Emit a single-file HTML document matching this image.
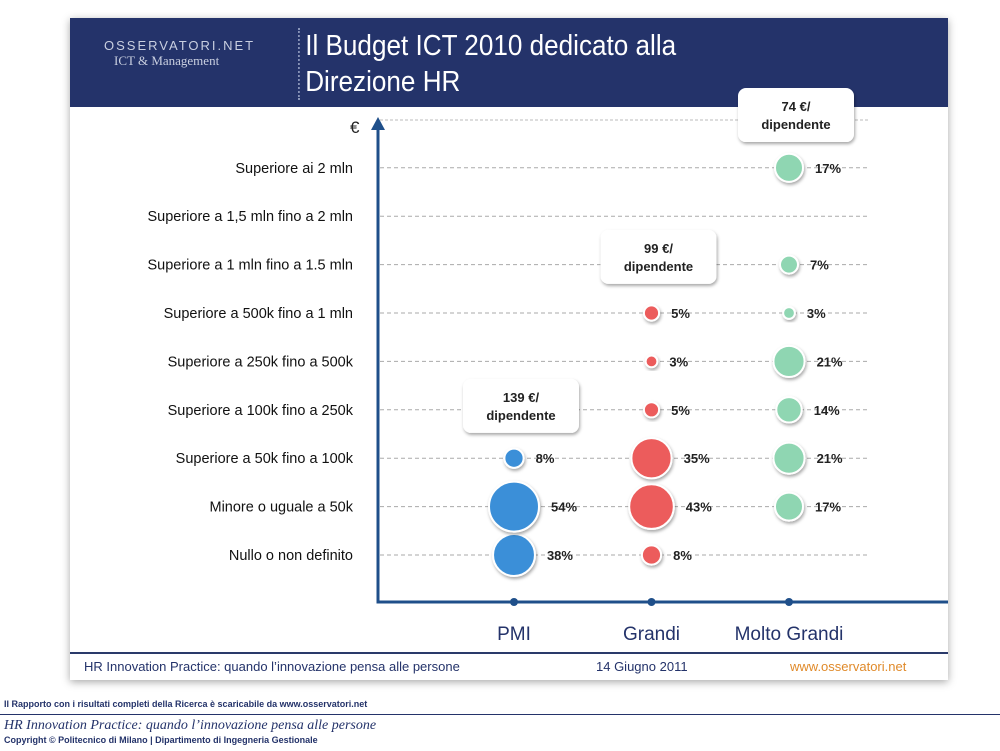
<!DOCTYPE html>
<html><head><meta charset="utf-8"><style>
body{margin:0;width:1000px;height:751px;background:#fff;overflow:hidden;font-family:"Liberation Sans",sans-serif;position:relative}
</style></head><body>
<div style="position:absolute;left:70px;top:18px;width:878px;height:662px;background:#fff;box-shadow:0 2px 8px rgba(0,0,0,0.35)"></div>
<div style="position:absolute;left:70px;top:18px;width:878px;height:89px;background:#24336a"></div>
<div style="position:absolute;left:104px;top:38px;color:#c9cfe0;font-family:'Liberation Serif',serif;">
<div style="font-family:'Liberation Sans',sans-serif;font-size:13px;letter-spacing:2px">OSSERVATORI.NET</div>
<div style="font-size:13px;margin-left:10px">ICT &amp; Management</div></div>
<div style="position:absolute;left:298px;top:28px;color:#fff;font-size:29px;line-height:36px;border-left:2px dotted #8894b8;padding-left:6px;transform:scaleX(0.9);transform-origin:left top">Il Budget ICT 2010 dedicato alla<br>Direzione HR</div>
<svg id="chart" width="1000" height="751" style="position:absolute;left:0;top:0"></svg>
<div style="position:absolute;left:70px;top:652px;width:878px;height:2px;background:#2a3a6a"></div>
<div style="position:absolute;left:84px;top:659px;font-size:13px;color:#24336a">HR Innovation Practice: quando l’innovazione pensa alle persone</div>
<div style="position:absolute;left:596px;top:659px;font-size:13px;color:#24336a">14 Giugno 2011</div>
<div style="position:absolute;left:790px;top:659px;font-size:13px;color:#e08a2a">www.osservatori.net</div>
<div style="position:absolute;left:4px;top:699px;font-size:9px;font-weight:bold;color:#24336a">Il Rapporto con i risultati completi della Ricerca è scaricabile da www.osservatori.net</div>
<div style="position:absolute;left:0;top:714px;width:1000px;height:1px;background:#24336a"></div>
<div style="position:absolute;left:4px;top:718px;font-size:14px;font-style:italic;font-family:'Liberation Serif',serif;color:#24336a">HR Innovation Practice: quando l’innovazione pensa alle persone</div>
<div style="position:absolute;left:4px;top:735px;font-size:9px;font-weight:bold;color:#24336a">Copyright © Politecnico di Milano | Dipartimento di Ingegneria Gestionale</div>
<script>
const categories=["Nullo o non definito","Minore o uguale a 50k","Superiore a 50k fino a 100k","Superiore a 100k fino a 250k","Superiore a 250k fino a 500k","Superiore a 500k fino a 1 mln","Superiore a 1 mln fino a 1.5 mln","Superiore a 1,5 mln fino a 2 mln","Superiore ai 2 mln"];
const groups=["PMI","Grandi","Molto Grandi"];
const pmiValues=[38,54,8,0,0,0,0,0,0];
const grandiValues=[8,43,35,5,3,5,0,0,0];
const moltoValues=[0,17,21,14,21,3,7,0,17];
const callouts=["139 €/","99 €/","74 €/"];
const calloutRows=[3.08,6.16,9.09];
const svg=document.getElementById('chart');const NS="http://www.w3.org/2000/svg";
const colors=["#3a8fd8","#ec5b5b","#8fd6b2"];
const yRow=i=>555-i*48.4;
const xCol=j=>514+j*137.5;
const rS=v=>3.4*Math.sqrt(v);
function el(t,a,p){const e=document.createElementNS(NS,t);for(const k in a)e.setAttribute(k,a[k]);(p||svg).appendChild(e);return e;}
const defs=el('defs',{});
const flt=el('filter',{id:'sh',x:'-30%',y:'-30%',width:'160%',height:'160%'},defs);
el('feDropShadow',{dx:'1',dy:'2',stdDeviation:'1.5','flood-opacity':'0.35'},flt);
const topLine=el('line',{x1:380,x2:870,y1:120,y2:120,stroke:'#bbb','stroke-dasharray':'3,2'});


categories.forEach((c,i)=>{
 const g=el('line',{x1:380,x2:870,y1:yRow(i),y2:yRow(i),stroke:'#aaa','stroke-dasharray':'4,3'});
 
 
 const t=el('text',{x:353,y:yRow(i)+5,'text-anchor':'end','font-size':'14.5',fill:'#111'});t.textContent=c;
 
 
});
const ax=el('path',{d:'M378,124 L378,602 L948,602',stroke:'#1f4f8a','stroke-width':3,fill:'none'});


const ar=el('path',{d:'M371,130 L378,117 L385,130 Z',fill:'#1f4f8a'});


const eu=el('text',{x:350,y:133,'font-size':'17',fill:'#222'});eu.textContent='€';


[pmiValues,grandiValues,moltoValues].forEach((vals,j)=>{
 const cx=xCol(j);
 const d=el('circle',{cx:cx,cy:602,r:4,fill:'#1f4f8a'});
 
 
 const gl=el('text',{x:cx,y:640,'text-anchor':'middle','font-size':'19',fill:'#24336a'});gl.textContent=groups[j];
 
 
 vals.forEach((v,i)=>{
  if(!v)return;const r=rS(v);
  const c=el('circle',{cx:cx,cy:yRow(i),r:r,fill:colors[j],stroke:'#fff','stroke-width':2,filter:'url(#sh)'});
  
  
  const t=el('text',{x:cx+r+12,y:yRow(i)+5,'font-size':'13','font-weight':'bold',fill:'#222'});t.textContent=v+'%';
  
  
 });
});
callouts.forEach((c,j)=>{
 const cx=xCol(j)+7,cy=yRow(calloutRows[j]);
 const b=el('rect',{x:cx-58,y:cy-27,width:116,height:54,rx:8,fill:'#fff',filter:'url(#sh)'});
 
 
 const t1=el('text',{x:cx,y:cy-4,'text-anchor':'middle','font-size':'13','font-weight':'bold',fill:'#222'});t1.textContent=c;
 
 
 const t2=el('text',{x:cx,y:cy+14,'text-anchor':'middle','font-size':'13','font-weight':'bold',fill:'#222'});t2.textContent='dipendente';
 
 
});
</script>
</body></html>
